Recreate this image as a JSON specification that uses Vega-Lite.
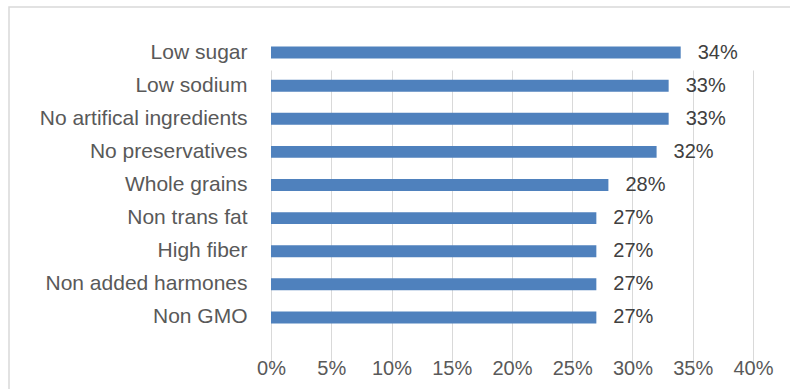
{
  "$schema": "https://vega.github.io/schema/vega-lite/v6.json",
  "autosize": "none",
  "padding": {"left": 9, "top": 7, "right": 0, "bottom": 0},
  "width": 790,
  "height": 390,
  "title": {"text": "Chart 2", "fontSize": 20, "fontWeight": "bold", "font": "Liberation Sans", "color": "#000000", "anchor": "middle", "baseline": "bottom", "offset": 3},
  "data": {"values": [
    {"item": "Low sugar", "pct": 0.34},
    {"item": "Low sodium", "pct": 0.33},
    {"item": "No artifical ingredients", "pct": 0.33},
    {"item": "No preservatives", "pct": 0.32},
    {"item": "Whole grains", "pct": 0.28},
    {"item": "Non trans fat", "pct": 0.27},
    {"item": "High fiber", "pct": 0.27},
    {"item": "Non added harmones", "pct": 0.27},
    {"item": "Non GMO", "pct": 0.27}
  ]},
  "encoding": {
    "y": {"field": "item", "type": "nominal", "sort": null,
      "scale": {"range": [29, 327], "paddingInner": 0.64, "paddingOuter": 0.32},
      "axis": {"title": null, "orient": "left", "offset": -240, "labelPadding": 2, "ticks": false, "domain": false,
        "labelFont": "Liberation Sans", "labelFontSize": 21, "labelColor": "#595959", "labelLimit": 400}},
    "x": {"field": "pct", "type": "quantitative",
      "scale": {"domain": [0, 0.4], "range": [262, 744], "nice": false, "zero": true},
      "axis": {"title": null, "format": ".0%", "values": [0, 0.05, 0.1, 0.15, 0.2, 0.25, 0.3, 0.35, 0.4],
        "grid": true, "gridColor": "#d9d9d9", "gridWidth": 1, "domain": false, "ticks": false,
        "offset": -63, "labelPadding": 24, "labelFont": "Liberation Sans", "labelFontSize": 20, "labelColor": "#595959",
        "labelFlush": false, "labelOverlap": false}}
  },
  "layer": [
    {"mark": {"type": "bar", "color": "#4f81bd"}},
    {"mark": {"type": "text", "align": "left", "baseline": "middle", "dx": 17, "font": "Liberation Sans", "fontSize": 20, "color": "#404040"},
      "encoding": {"text": {"field": "pct", "type": "quantitative", "format": ".0%"}}}
  ],
  "config": {"view": {"stroke": "#d9d9d9", "strokeWidth": 1.5}}
}
